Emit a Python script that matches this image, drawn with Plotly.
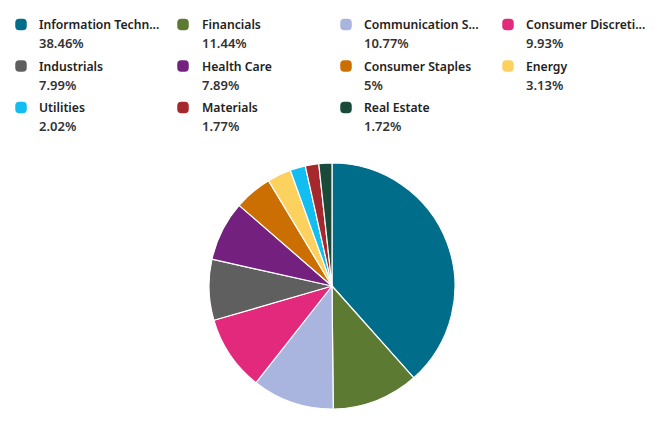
import plotly.graph_objects as go

sectors = ["Information Technology", "Financials", "Communication Services", "Consumer Discretionary",
           "Industrials", "Health Care", "Consumer Staples", "Energy",
           "Utilities", "Materials", "Real Estate"]
legend_labels = ["Information Techn...", "Financials", "Communication S...", "Consumer Discreti...",
                 "Industrials", "Health Care", "Consumer Staples", "Energy",
                 "Utilities", "Materials", "Real Estate"]
weights = [38.46, 11.44, 10.77, 9.93, 7.99, 7.89, 5, 3.13, 2.02, 1.77, 1.72]
pct_labels = ["38.46%", "11.44%", "10.77%", "9.93%", "7.99%", "7.89%", "5%", "3.13%", "2.02%", "1.77%", "1.72%"]
colors = ["#006e8a", "#5c7a32", "#a9b4df", "#e2297b", "#5f5f5f", "#73207f",
          "#cc6f02", "#fdd15e", "#12bef1", "#a5282c", "#1a4b3a"]

W, H = 666, 429
fig = go.Figure()
fig.add_trace(go.Pie(
    labels=sectors, values=weights, sort=False, direction="clockwise", rotation=0,
    marker=dict(colors=colors, line=dict(color="white", width=1.2)),
    textinfo="none", hoverinfo="label+percent", showlegend=False,
    domain=dict(x=[(332 - 123) / W, (332 + 123) / W], y=[1 - 409 / H, 1 - 163 / H]),
))

col_marker_x = [21, 183, 346, 508]
col_text_x = [37, 200, 362, 524]
row_y = [24.5, 66, 107.5]
font_name = dict(family="Noto Sans", size=12.2, color="#222222", weight=600)
font_pct = dict(family="Noto Sans", size=13, color="#333333", weight=600)
shapes = []
annotations = []
s = 11.5
r = 4
for i, (lab, pct, c) in enumerate(zip(legend_labels, pct_labels, colors)):
    row, col = divmod(i, 4)
    mx, my = col_marker_x[col], row_y[row]
    x0, x1, y0, y1 = mx - s / 2, mx + s / 2, my - s / 2, my + s / 2
    path = (f"M{x0+r},{y0} L{x1-r},{y0} Q{x1},{y0} {x1},{y0+r} L{x1},{y1-r} Q{x1},{y1} {x1-r},{y1} "
            f"L{x0+r},{y1} Q{x0},{y1} {x0},{y1-r} L{x0},{y0+r} Q{x0},{y0} {x0+r},{y0} Z")
    shapes.append(dict(type="path", path=path, xref="x", yref="y", fillcolor=c, line=dict(width=0)))
    annotations.append(dict(x=col_text_x[col], y=my, xref="x", yref="y", text=lab, showarrow=False,
                            xanchor="left", yanchor="middle", font=font_name))
    annotations.append(dict(x=col_text_x[col], y=my + 18.5, xref="x", yref="y", text=pct, showarrow=False,
                            xanchor="left", yanchor="middle", font=font_pct))

fig.update_layout(
    width=W, height=H, margin=dict(l=0, r=0, t=0, b=0),
    paper_bgcolor="white", plot_bgcolor="white",
    xaxis=dict(range=[0, W], visible=False, fixedrange=True),
    yaxis=dict(range=[H, 0], visible=False, fixedrange=True),
    shapes=shapes, annotations=annotations, showlegend=False,
)
fig.write_html("out.html")
